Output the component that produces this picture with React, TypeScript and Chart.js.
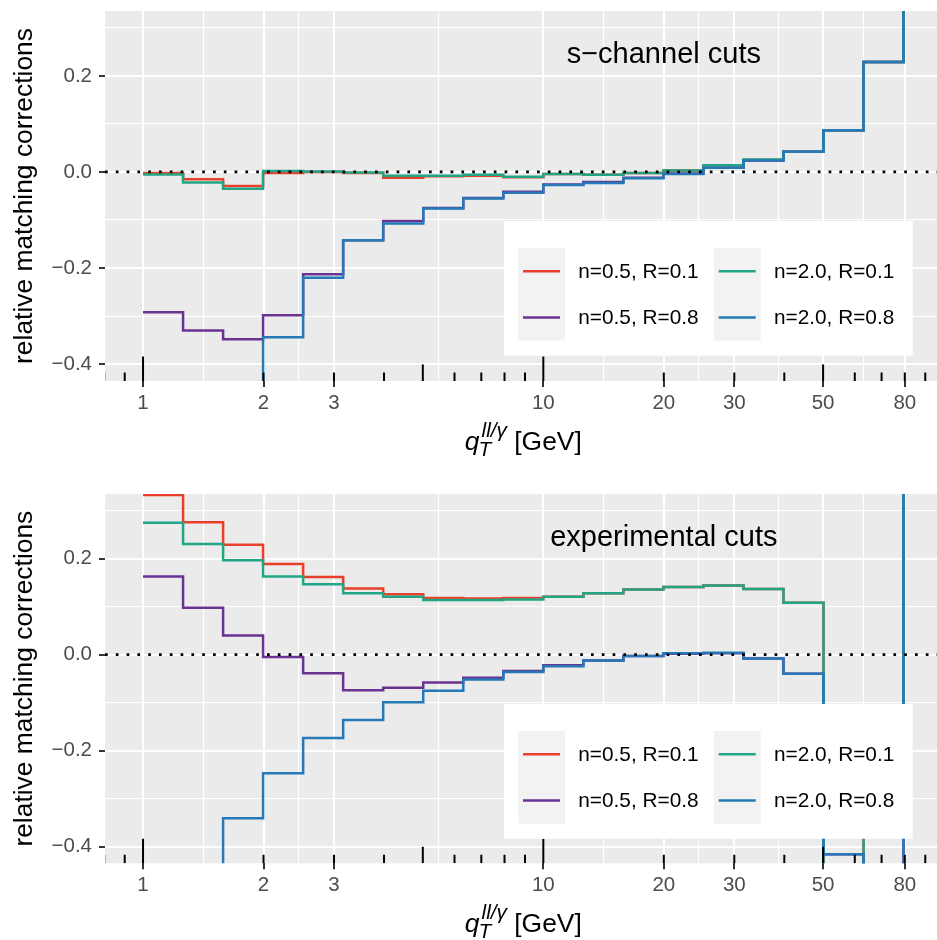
import React, { useEffect, useRef } from "react";
import { Chart, registerables } from "chart.js";

Chart.register(...registerables);

const FONT = '"Liberation Sans", Arial, Helvetica, sans-serif';

// bin left edges (GeV)
const binEdges = [1, 1.259, 1.585, 1.995, 2.512, 3.162, 3.981, 5.012, 6.31, 7.943, 10, 12.59, 15.85, 19.95, 25.12, 31.62, 39.81, 50.12, 63.1, 79.43];

const seriesLabels = ["n=0.5, R=0.1", "n=0.5, R=0.8", "n=2.0, R=0.1", "n=2.0, R=0.8"];
const seriesColors = ["#E8402A", "#6A3291", "#22A585", "#2479B6"];

// s-channel cuts
const sRed = [-0.002, -0.015, -0.029, -0.002, 0.0, -0.002, -0.012, -0.009, -0.008, -0.011, -0.004, -0.006, -0.002, 0.003, 0.014, 0.025, 0.042, 0.087, 0.229, 0.6];
const sPurple = [-0.292, -0.33, -0.348, -0.298, -0.213, -0.142, -0.102, -0.075, -0.054, -0.041, -0.026, -0.021, -0.012, -0.003, 0.009, 0.024, 0.042, 0.087, 0.229, 0.6];
const sGreen = [-0.005, -0.022, -0.035, 0.002, 0.001, -0.001, -0.008, -0.008, -0.006, -0.01, -0.004, -0.006, -0.002, 0.003, 0.014, 0.026, 0.042, 0.087, 0.229, 0.6];
const sBlue = [-0.7, -0.6, -0.55, -0.344, -0.22, -0.142, -0.107, -0.076, -0.055, -0.043, -0.027, -0.023, -0.013, -0.004, 0.009, 0.024, 0.042, 0.087, 0.229, 0.6];

// experimental cuts
const eRed = [0.333, 0.276, 0.229, 0.189, 0.162, 0.138, 0.126, 0.118, 0.117, 0.118, 0.121, 0.128, 0.136, 0.141, 0.144, 0.137, 0.108, -0.6, -0.3, 0.8];
const ePurple = [0.163, 0.098, 0.04, -0.005, -0.039, -0.074, -0.069, -0.058, -0.048, -0.034, -0.022, -0.012, -0.003, 0.002, 0.003, -0.008, -0.04, -0.416, -0.7, 0.8];
const eGreen = [0.275, 0.231, 0.197, 0.163, 0.147, 0.128, 0.121, 0.114, 0.114, 0.115, 0.121, 0.128, 0.136, 0.141, 0.144, 0.137, 0.108, -0.6, -0.3, 0.8];
const eBlue = [-0.7, -0.6, -0.341, -0.247, -0.174, -0.136, -0.099, -0.075, -0.052, -0.036, -0.024, -0.012, -0.003, 0.003, 0.004, -0.008, -0.04, -0.416, -0.8, 1.2];

const xMajorTicks = [1, 2, 3, 10, 20, 30, 50, 80];
const xMinorTicks = [1.414, 2.449, 5.477, 14.14, 24.49, 38.73, 63.25];
const yMajorTicks = [-0.4, -0.2, 0, 0.2];
const yMinorTicks = [-0.3, -0.1, 0.1, 0.3];
const logTicksShort = [0.8, 0.9, 2, 3, 4, 6, 7, 8, 9, 20, 30, 40, 60, 70, 80, 90];
const logTicksMid = [5, 50];
const logTicksLong = [1, 10];

const X_MIN = 0.8035;
const X_MAX = 98.86;
const Y_MIN = -0.435;
const Y_MAX = 0.335;

const annoX = 20;
const annoY = 0.25;

const CANVAS_W = 945;
const PANEL_LEFT = 105;
const PANEL_RIGHT = 941.6;

function fmtY(v: number) {
  const s = Math.abs(v).toFixed(1);
  return v < -1e-9 ? "\u2212" + s : s;
}

function makePlugin(annotation: string) {
  return {
    id: "ggpanel",
    beforeDraw(chart: any) {
      const { ctx, chartArea: a } = chart;
      ctx.save();
      ctx.fillStyle = "#EBEBEB";
      ctx.fillRect(a.left, a.top, a.right - a.left, a.bottom - a.top);
      ctx.restore();
    },
    afterDatasetsDraw(chart: any) {
      const { ctx, chartArea: a, scales } = chart;
      const xs = scales.x;
      const ys = scales.y;
      ctx.save();
      ctx.beginPath();
      ctx.rect(a.left, a.top, a.right - a.left, a.bottom - a.top);
      ctx.clip();
      // zero line
      const y0 = ys.getPixelForValue(0);
      ctx.strokeStyle = "#000000";
      ctx.lineWidth = 2.7;
      ctx.lineCap = "butt";
      ctx.setLineDash([2.7, 8.1]);
      ctx.beginPath();
      ctx.moveTo(a.left, y0);
      ctx.lineTo(a.right, y0);
      ctx.stroke();
      ctx.setLineDash([]);
      // log ticks
      ctx.lineWidth = 2;
      const drawLT = (vals: number[], len: number) => {
        vals.forEach((v) => {
          const x = xs.getPixelForValue(v);
          ctx.beginPath();
          ctx.moveTo(x, a.bottom);
          ctx.lineTo(x, a.bottom - len);
          ctx.stroke();
        });
      };
      drawLT(logTicksShort, 8.5);
      drawLT(logTicksMid, 16.5);
      drawLT(logTicksLong, 24.5);
      // annotation
      ctx.fillStyle = "#000000";
      ctx.font = `29px ${FONT}`;
      ctx.textAlign = "center";
      ctx.textBaseline = "alphabetic";
      ctx.fillText(annotation, xs.getPixelForValue(annoX), ys.getPixelForValue(annoY) + 11.3);
      ctx.restore();

      // legend
      ctx.save();
      const bx = a.left + 399;
      const by = a.top + 210;
      const bw = 408.7;
      const bh = 134.7;
      ctx.fillStyle = "#FFFFFF";
      ctx.fillRect(bx, by, bw, bh);
      const cols = [bx + 14.3, bx + 210];
      const keyTop = by + 27;
      const keyW = 46.7;
      const rowH = 46.35;
      ctx.font = `20.8px ${FONT}`;
      ctx.textAlign = "left";
      ctx.textBaseline = "middle";
      for (let c = 0; c < 2; c++) {
        ctx.fillStyle = "#F2F2F2";
        ctx.fillRect(cols[c], keyTop, keyW, rowH * 2);
        for (let r = 0; r < 2; r++) {
          const idx = c * 2 + r;
          const cy = keyTop + rowH * r + rowH / 2;
          ctx.strokeStyle = seriesColors[idx];
          ctx.lineWidth = 2.6;
          ctx.beginPath();
          ctx.moveTo(cols[c] + 4.7, cy);
          ctx.lineTo(cols[c] + 41.7, cy);
          ctx.stroke();
          ctx.fillStyle = "#000000";
          ctx.fillText(seriesLabels[idx], cols[c] + 60, cy + 1);
        }
      }
      ctx.restore();
    },
    afterDraw(chart: any) {
      const { ctx, chartArea: a } = chart;
      ctx.save();
      // y title
      ctx.fillStyle = "#000000";
      ctx.font = `26.4px ${FONT}`;
      ctx.textAlign = "center";
      ctx.textBaseline = "alphabetic";
      ctx.translate(32, (a.top + a.bottom) / 2);
      ctx.rotate(-Math.PI / 2);
      ctx.fillText("relative matching corrections", 0, 0);
      ctx.restore();

      // x title: q_T^{ll/γ} [GeV]
      ctx.save();
      ctx.fillStyle = "#000000";
      ctx.textAlign = "left";
      ctx.textBaseline = "alphabetic";
      const B = a.bottom + 68.5;
      const fMain = `26.4px ${FONT}`;
      const fMainIt = `italic 26.4px ${FONT}`;
      const fSmallIt = `italic 20.8px ${FONT}`;
      ctx.font = fMainIt;
      const wq = ctx.measureText("q").width;
      ctx.font = fSmallIt;
      const wsup = ctx.measureText("ll/\u03B3").width + 2;
      const wsub = ctx.measureText("T").width;
      ctx.font = fMain;
      const wrest = ctx.measureText(" [GeV]").width;
      const total = wq + Math.max(wsup, wsub) + wrest;
      let x = (a.left + a.right) / 2 - total / 2;
      ctx.font = fMainIt;
      ctx.fillText("q", x, B);
      x += wq;
      ctx.font = fSmallIt;
      ctx.fillText("ll/\u03B3", x + 2, B - 13);
      ctx.fillText("T", x - 1, B + 6);
      x += Math.max(wsup, wsub);
      ctx.font = fMain;
      ctx.fillText(" [GeV]", x, B);
      ctx.restore();
    },
  };
}

type PanelProps = {
  top: number;
  height: number;
  padTop: number;
  areaHeight: number;
  annotation: string;
  series: number[][];
};

function Panel({ top, height, padTop, areaHeight, annotation, series }: PanelProps) {
  const ref = useRef<HTMLCanvasElement>(null);
  useEffect(() => {
    const canvas = ref.current!;
    const isXMajor = (v: number) => xMajorTicks.includes(v);
    const isYMajor = (v: number) => yMajorTicks.some((m) => Math.abs(m - v) < 1e-9);
    const chart = new Chart(canvas, {
      type: "line",
      data: {
        datasets: series.map((vals, i) => ({
          label: seriesLabels[i],
          data: binEdges.map((x, j) => ({ x, y: vals[j] })),
          borderColor: seriesColors[i],
          backgroundColor: seriesColors[i],
          borderWidth: 2.5,
          pointRadius: 0,
          pointHoverRadius: 0,
          stepped: "before",
          fill: false,
          clip: 0,
          order: series.length - i,
        })),
      } as any,
      options: {
        animation: false,
        responsive: false,
        devicePixelRatio: 1,
        layout: { padding: { top: padTop, left: 0, right: CANVAS_W - PANEL_RIGHT, bottom: 0 } },
        plugins: {
          legend: { display: false },
          tooltip: { enabled: false },
        },
        scales: {
          x: {
            type: "logarithmic",
            min: X_MIN,
            max: X_MAX,
            afterFit: (s: any) => {
              s.height = height - padTop - areaHeight;
              s.paddingLeft = 0;
              s.paddingRight = 0;
            },
            afterBuildTicks: (s: any) => {
              s.ticks = [...xMinorTicks, ...xMajorTicks].sort((p, q) => p - q).map((v) => ({ value: v }));
            },
            ticks: {
              autoSkip: false,
              maxRotation: 0,
              minRotation: 0,
              color: "#4D4D4D",
              font: { size: 20.5, family: FONT },
              padding: 3.7,
              callback: (v: any) => (isXMajor(Number(v)) ? String(v) : ""),
            },
            grid: {
              color: "#FFFFFF",
              lineWidth: (c: any) => (c.tick && isXMajor(c.tick.value) ? 2 : 1.1),
              tickColor: (c: any) => (c.tick && isXMajor(c.tick.value) ? "#333333" : "rgba(0,0,0,0)"),
              tickWidth: 2,
              tickLength: 6,
              drawTicks: true,
            },
            border: { display: false },
          },
          y: {
            type: "linear",
            min: Y_MIN,
            max: Y_MAX,
            afterFit: (s: any) => {
              s.width = PANEL_LEFT;
              s.paddingTop = 0;
              s.paddingBottom = 0;
            },
            afterBuildTicks: (s: any) => {
              s.ticks = [...yMinorTicks, ...yMajorTicks].sort((p, q) => p - q).map((v) => ({ value: v }));
            },
            ticks: {
              color: "#4D4D4D",
              font: { size: 20.5, family: FONT },
              padding: 7,
              callback: (v: any) => (isYMajor(Number(v)) ? fmtY(Number(v)) : ""),
            },
            grid: {
              color: "#FFFFFF",
              lineWidth: (c: any) => (c.tick && isYMajor(c.tick.value) ? 2 : 1.1),
              tickColor: (c: any) => (c.tick && isYMajor(c.tick.value) ? "#333333" : "rgba(0,0,0,0)"),
              tickWidth: 2,
              tickLength: 6,
              drawTicks: true,
            },
            border: { display: false },
          },
        },
      } as any,
      plugins: [makePlugin(annotation)],
    });
    return () => chart.destroy();
  }, []);
  return (
    <canvas
      ref={ref}
      width={CANVAS_W}
      height={height}
      style={{ position: "absolute", left: 0, top, width: CANVAS_W, height, display: "block" }}
    />
  );
}

export default function App() {
  return (
    <div
      style={{
        position: "absolute",
        left: 0,
        top: 0,
        width: 937,
        height: 940,
        overflow: "hidden",
        background: "#FFFFFF",
      }}
    >
      <Panel
        top={0}
        height={470}
        padTop={11}
        areaHeight={370}
        annotation={"s\u2212channel cuts"}
        series={[sRed, sPurple, sGreen, sBlue]}
      />
      <Panel
        top={470}
        height={470}
        padTop={24}
        areaHeight={369.3}
        annotation={"experimental cuts"}
        series={[eRed, ePurple, eGreen, eBlue]}
      />
    </div>
  );
}
